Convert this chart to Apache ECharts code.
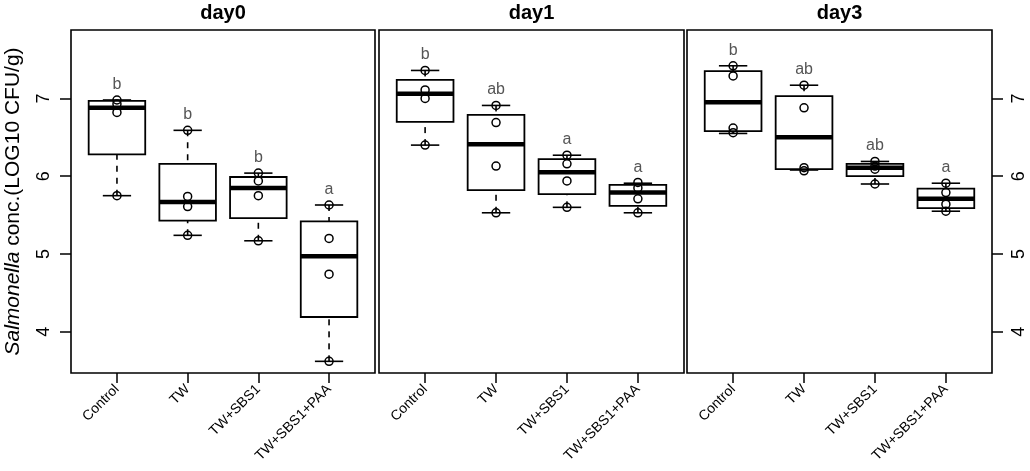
<!DOCTYPE html>
<html>
<head>
<meta charset="utf-8">
<title>Salmonella conc. by day</title>
<script src="https://cdn.jsdelivr.net/npm/echarts@6.0.0/dist/echarts.min.js"></script>
<style>
  html, body { margin: 0; padding: 0; background: #fff; }
  #main { width: 1030px; height: 471px; }
</style>
</head>
<body>
<div id="main"></div>
<script>
var groups = ['Control', 'TW', 'TW+SBS1', 'TW+SBS1+PAA'];
var days = ['day0', 'day1', 'day3'];
var yTicks = [4, 5, 6, 7];

// box stats per group: [lower whisker, Q1, median, Q3, upper whisker]
var day0Box = [
  [5.75, 6.28, 6.88, 6.97, 6.98],
  [5.24, 5.43, 5.67, 6.16, 6.59],
  [5.17, 5.46, 5.85, 5.99, 6.04],
  [3.62, 4.19, 4.97, 5.42, 5.63]
];
var day1Box = [
  [6.40, 6.70, 7.06, 7.24, 7.36],
  [5.53, 5.82, 6.41, 6.79, 6.91],
  [5.60, 5.77, 6.05, 6.22, 6.27],
  [5.53, 5.62, 5.79, 5.89, 5.91]
];
var day3Box = [
  [6.55, 6.58, 6.95, 7.35, 7.42],
  [6.08, 6.09, 6.50, 7.03, 7.17],
  [5.90, 6.00, 6.11, 6.16, 6.19],
  [5.55, 5.59, 5.71, 5.84, 5.91]
];

// plotted sample points per group
var day0Points = [
  [6.98, 6.93, 6.82, 5.75],
  [6.59, 5.74, 5.61, 5.24],
  [6.04, 5.94, 5.75, 5.17],
  [5.63, 5.20, 4.74, 3.62]
];
var day1Points = [
  [7.36, 7.11, 7.00, 6.40],
  [6.91, 6.69, 6.13, 5.53],
  [6.27, 6.16, 5.94, 5.60],
  [5.92, 5.85, 5.71, 5.53]
];
var day3Points = [
  [7.42, 7.29, 6.62, 6.56],
  [7.17, 6.88, 6.11, 6.07],
  [6.19, 6.13, 6.09, 5.90],
  [5.91, 5.79, 5.64, 5.55]
];

var day0Letters = ['b', 'b', 'b', 'a'];
var day1Letters = ['b', 'ab', 'a', 'a'];
var day3Letters = ['b', 'ab', 'ab', 'a'];

(function() {
  var boxes = [day0Box, day1Box, day3Box];
  var points = [day0Points, day1Points, day3Points];
  var letters = [day0Letters, day1Letters, day3Letters];

  var font = '"Liberation Sans", Arial, Helvetica, sans-serif';
  var panels = [
    {left: 71, width: 304},
    {left: 379, width: 305},
    {left: 687, width: 305}
  ];
  var top = 30, height = 343;

  var renderBox = function(labels) {
    return function(params, api) {
      var x = api.value(0);
      var lo = api.value(1), q1 = api.value(2), med = api.value(3), q3 = api.value(4), hi = api.value(5);
      var c = function(dx, v) { return api.coord([x + dx, v]); };
      var dash = {stroke: '#000', lineWidth: 1.6, lineDash: [6, 6], fill: null};
      var solid = {stroke: '#000', lineWidth: 1.6, fill: null};
      var seg = function(a, b, style) {
        return {type: 'line', shape: {x1: a[0], y1: a[1], x2: b[0], y2: b[1]}, style: style};
      };
      var tl = c(-0.4, q3), br = c(0.4, q1);
      var txt = c(0, hi + 0.2);
      return {
        type: 'group',
        children: [
          seg(c(0, lo), c(0, q1), dash),
          seg(c(0, hi), c(0, q3), dash),
          seg(c(-0.2, lo), c(0.2, lo), solid),
          seg(c(-0.2, hi), c(0.2, hi), solid),
          {type: 'rect', shape: {x: tl[0], y: tl[1], width: br[0] - tl[0], height: br[1] - tl[1]},
            style: {fill: null, stroke: '#000', lineWidth: 1.8}},
          seg(c(-0.4, med), c(0.4, med), {stroke: '#000', lineWidth: 4.5}),
          {type: 'text', x: txt[0], y: txt[1],
            style: {text: labels[params.dataIndex], fill: '#555', fontSize: 16, fontFamily: font,
              align: 'center', verticalAlign: 'middle'}}
        ]
      };
    };
  };

  var grids = [], xAxes = [], yAxes = [], titles = [], series = [];

  days.forEach(function(day, d) {
    grids.push({
      left: panels[d].left, top: top, width: panels[d].width, height: height,
      show: true, borderColor: '#000', borderWidth: 1.6, backgroundColor: 'transparent'
    });
    titles.push({
      text: day,
      left: panels[d].left + panels[d].width / 2,
      top: 3,
      padding: 0,
      textAlign: 'center',
      textStyle: {fontSize: 20, fontWeight: 'bold', color: '#000', fontFamily: font}
    });
    xAxes.push({
      gridIndex: d, type: 'value', min: 0.35, max: 4.65,
      axisLine: {show: false},
      splitLine: {show: false},
      axisTick: {show: true, customValues: [1, 2, 3, 4], length: 10, lineStyle: {color: '#000', width: 1.5}},
      axisLabel: {
        customValues: [1, 2, 3, 4], rotate: 45, margin: 14,
        fontSize: 14, color: '#000', fontFamily: font,
        formatter: function(v) { return groups[Math.round(v) - 1]; }
      }
    });
    var yAx = {
      gridIndex: d, type: 'value', min: 3.47, max: 7.88,
      position: d === 2 ? 'right' : 'left',
      axisLine: {show: false},
      splitLine: {show: false},
      axisTick: {show: d !== 1, customValues: yTicks, length: 11, lineStyle: {color: '#000', width: 1.5}},
      axisLabel: {
        show: d !== 1, customValues: yTicks, rotate: 90, margin: 18,
        fontSize: 18, color: '#000', fontFamily: font
      }
    };
    if (d === 0) {
      yAx.name = '{i|Salmonella} conc.(LOG10 CFU/g)';
      yAx.nameLocation = 'middle';
      yAx.nameRotate = 90;
      yAx.nameGap = 47;
      yAx.nameTextStyle = {
        fontSize: 21, color: '#000', fontFamily: font,
        rich: {i: {fontSize: 21, fontStyle: 'italic', color: '#000', fontFamily: font}}
      };
    }
    yAxes.push(yAx);

    series.push({
      type: 'custom',
      xAxisIndex: d, yAxisIndex: d,
      renderItem: renderBox(letters[d]),
      encode: {x: 0, y: [1, 2, 3, 4, 5]},
      data: boxes[d].map(function(b, i) { return [i + 1].concat(b); }),
      z: 2, silent: true
    });

    var pts = [];
    points[d].forEach(function(vals, i) {
      vals.forEach(function(v) { pts.push([i + 1, v]); });
    });
    series.push({
      type: 'scatter',
      xAxisIndex: d, yAxisIndex: d,
      symbol: 'circle', symbolSize: 8,
      itemStyle: {color: 'rgba(0,0,0,0)', borderColor: '#000', borderWidth: 1.5, opacity: 1},
      data: pts,
      z: 3, silent: true
    });
  });

  var myChart = echarts.init(document.getElementById('main'));
  myChart.setOption({
    animation: false,
    backgroundColor: '#fff',
    title: titles,
    grid: grids,
    xAxis: xAxes,
    yAxis: yAxes,
    series: series
  });
})();
</script>
</body>
</html>
